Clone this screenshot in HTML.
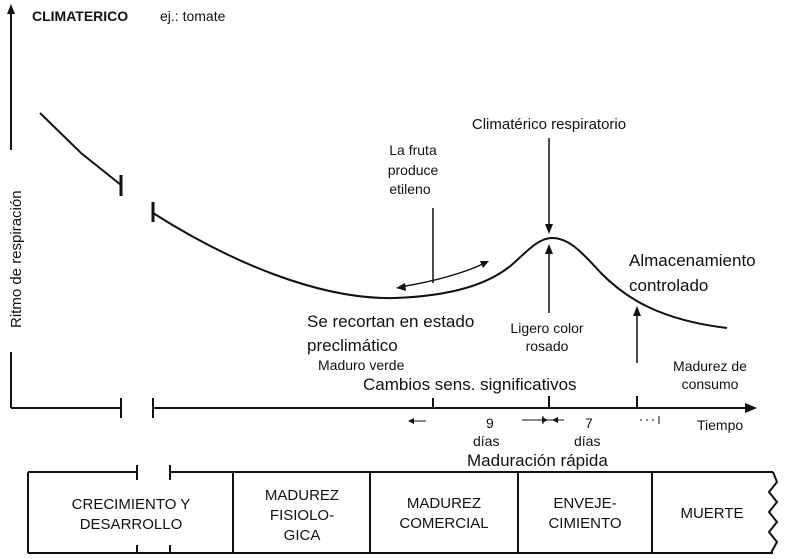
<!DOCTYPE html>
<html><head><meta charset="utf-8"><style>
body{margin:0;background:#fff}
svg{display:block}
text{font-family:"Liberation Sans",sans-serif;fill:#111}
</style></head><body>
<svg width="789" height="559" viewBox="0 0 789 559" xmlns="http://www.w3.org/2000/svg">
<g stroke="#111" fill="none" stroke-width="2">
<line x1="11" y1="12" x2="11" y2="150"/>
<line x1="11" y1="352" x2="11" y2="408"/>
<line x1="11" y1="408" x2="121" y2="408"/>
<line x1="153" y1="408" x2="748" y2="408"/>
<line x1="121" y1="398" x2="121" y2="418"/>
<line x1="153" y1="398" x2="153" y2="418"/>
<line x1="433" y1="398" x2="433" y2="408"/>
<line x1="549" y1="396" x2="549" y2="408"/>
<line x1="637" y1="396" x2="637" y2="408"/>
<polyline points="40,113 81,153 121,185"/>
<line x1="121" y1="175" x2="121" y2="196" stroke-width="3"/>
<line x1="153" y1="202" x2="153" y2="222" stroke-width="3"/>
<path d="M153,213 C230,262 320,300 395,298 C450,296 490,285 515,262 C530,248 540,238 552,238 C568,238 580,250 600,272 C625,298 660,320 727,328"/>
<line x1="433" y1="208" x2="433" y2="283" stroke-width="1.5"/>
<path d="M400,287 C430,282 460,275 485,263" stroke-width="1.5"/>
<line x1="549" y1="138" x2="549" y2="228" stroke-width="1.5"/>
<line x1="549" y1="313" x2="549" y2="252" stroke-width="1.5"/>
<line x1="637" y1="363" x2="637" y2="312" stroke-width="1.5"/>
<line x1="28" y1="472" x2="137" y2="472"/>
<line x1="170" y1="472" x2="773" y2="472"/>
<line x1="28" y1="553" x2="773" y2="553"/>
<line x1="28" y1="472" x2="28" y2="553"/>
<line x1="233" y1="472" x2="233" y2="553"/>
<line x1="370" y1="472" x2="370" y2="553"/>
<line x1="518" y1="472" x2="518" y2="553"/>
<line x1="652" y1="472" x2="652" y2="553"/>
<line x1="137" y1="465" x2="137" y2="480"/>
<line x1="170" y1="465" x2="170" y2="480"/>
<line x1="137" y1="545" x2="137" y2="553"/>
<line x1="170" y1="545" x2="170" y2="553"/>
<polyline points="773,472 777,482 769,492 777,502 769,512 777,522 769,532 777,542 771,553"/>
<line x1="412" y1="421" x2="426" y2="421" stroke-width="1"/>
<line x1="522" y1="420" x2="564" y2="420" stroke-width="1"/>
<line x1="640" y1="420" x2="658" y2="420" stroke-width="1" stroke-dasharray="2,4"/>
<line x1="659" y1="416" x2="659" y2="424" stroke-width="1"/>
<line x1="543" y1="416" x2="543" y2="424" stroke-width="1"/>
</g>
<g fill="#111">
<polygon points="11,4 7,14 15,14"/>
<polygon points="757,408 745,403 745,413"/>
<polygon points="549,234 545,224 553,224"/>
<polygon points="549,244 545,254 553,254"/>
<polygon points="637,306 633,316 641,316"/>
<polygon points="396,288 405,283 406,291"/>
<polygon points="489,261 480,261 483,268"/>
<polygon points="408,421 414,418 414,424"/>
<polygon points="548,420 542,417 542,423"/>
<polygon points="552,420 558,417 558,423"/>
</g>
<text x="32" y="21" font-size="14" font-weight="bold">CLIMATERICO</text>
<text x="160" y="21" font-size="14">ej.: tomate</text>
<text transform="translate(21,328) rotate(-90)" font-size="15">Ritmo de respiración</text>
<text x="549" y="129" font-size="15" text-anchor="middle">Climatérico respiratorio</text>
<g font-size="14" text-anchor="middle">
<text x="413" y="155">La fruta</text>
<text x="413" y="175">produce</text>
<text x="410" y="194">etileno</text>
<text x="547" y="333">Ligero color</text>
<text x="547" y="351">rosado</text>
<text x="710" y="371">Madurez de</text>
<text x="710" y="389">consumo</text>
</g>
<g font-size="17">
<text x="629" y="266">Almacenamiento</text>
<text x="629" y="291">controlado</text>
<text x="307" y="327">Se recortan en estado</text>
<text x="307" y="351">preclimático</text>
<text x="363" y="390">Cambios sens. significativos</text>
<text x="467" y="466">Maduración rápida</text>
</g>
<text x="318" y="370" font-size="14">Maduro verde</text>
<g font-size="14">
<text x="697" y="430">Tiempo</text>
<text x="486" y="428">9</text>
<text x="473" y="446">días</text>
<text x="585" y="428">7</text>
<text x="574" y="446">días</text>
</g>
<g font-size="15" text-anchor="middle">
<text x="131" y="509">CRECIMIENTO Y</text>
<text x="131" y="529">DESARROLLO</text>
<text x="302" y="500">MADUREZ</text>
<text x="302" y="520">FISIOLO-</text>
<text x="302" y="540">GICA</text>
<text x="444" y="508">MADUREZ</text>
<text x="444" y="528">COMERCIAL</text>
<text x="585" y="508">ENVEJE-</text>
<text x="585" y="528">CIMIENTO</text>
<text x="712" y="518">MUERTE</text>
</g>
</svg>
</body></html>
